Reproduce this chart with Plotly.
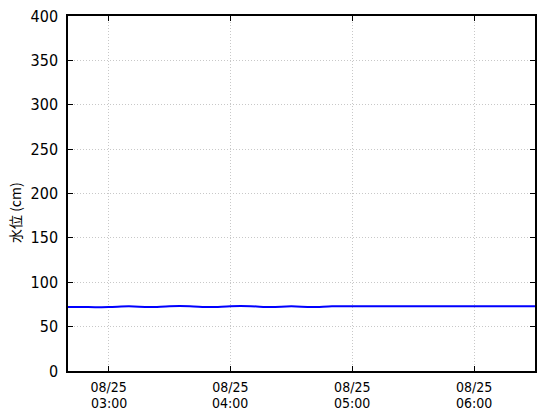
import plotly.graph_objects as go
import pandas as pd

times = pd.date_range("2024-08-25 02:40", "2024-08-25 06:30", freq="10min")
levels = [72, 72, 72, 73, 72, 73, 73, 72, 73, 73, 72, 73, 72, 73,
          73, 73, 73, 73, 73, 73, 73, 73, 73, 73]
tick_vals = pd.to_datetime(["2024-08-25 03:00", "2024-08-25 04:00",
                            "2024-08-25 05:00", "2024-08-25 06:00"])
tick_dates = ["08/25", "08/25", "08/25", "08/25"]
tick_times = ["03:00", "04:00", "05:00", "06:00"]
y_title = "水位 (cm)"

num_font = "Liberation Sans Narrow, DejaVu Sans Condensed, sans-serif"
cjk_font = "Noto Sans CJK JP, sans-serif"

fig = go.Figure()
fig.add_trace(go.Scatter(x=times, y=levels, mode="lines",
                         line=dict(color="#0000ff", width=2, shape="spline"),
                         hoverinfo="skip"))

grid = dict(showgrid=True, gridcolor="#c8c8c8", griddash="1px,2px", gridwidth=1)
frame = dict(showline=True, linecolor="black", linewidth=1.5, mirror="ticks",
             ticks="inside", ticklen=5, tickcolor="black", zeroline=False,
             automargin=False)

annotations = [dict(text=y_title, xref="paper", yref="paper",
                    x=(15 - 68) / 467, y=(371 - 213) / 355,
                    xanchor="center", yanchor="middle", textangle=-90,
                    showarrow=False, font=dict(family=cjk_font, size=14))]
for tv, tt in zip(tick_vals, tick_times):
    annotations.append(dict(text=tt, x=tv, xref="x", y=0, yref="paper",
                            xanchor="center", yanchor="middle", yshift=-32,
                            borderpad=0,
                            showarrow=False, font=dict(family=num_font, size=14)))

fig.update_layout(
    width=560, height=420,
    margin=dict(l=68, r=25, t=16, b=49),
    paper_bgcolor="white", plot_bgcolor="white",
    showlegend=False,
    font=dict(family=num_font, size=16, color="black"),
    xaxis=dict(range=[times[0], times[-1]], tickvals=tick_vals, ticktext=tick_dates,
               tickfont=dict(size=14), ticklabelstandoff=2, **grid, **frame),
    yaxis=dict(range=[0, 400], dtick=50, tickfont=dict(size=16),
               ticklabelstandoff=5, **grid, **frame),
    annotations=annotations,
)

fig.write_html("out.html", config={"displayModeBar": False},
               post_script="document.body.style.margin='0';")
